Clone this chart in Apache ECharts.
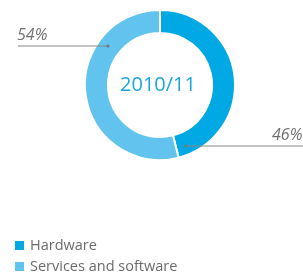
<!DOCTYPE html>
<html>
<head>
<meta charset="utf-8">
<script src="https://cdn.jsdelivr.net/npm/echarts@6/dist/echarts.min.js"></script>
<style>
  html, body { margin: 0; padding: 0; background: #fff; }
  #chart { width: 303px; height: 275px; }
</style>
</head>
<body>
<div id="chart"></div>
<script>
// data
const categories = ['Hardware', 'Services and software'];
const shares = [46, 54];
const colors = ['#00a8e4', '#62c3ee'];
const centerTitle = '2010/11';

// where the leader lines of each label go (pixel layout)
const labelSpots = [
	{ dot: [186, 146], end: [303, 146], text: [272, 135] },
	{ dot: [108, 46], end: [18, 46], text: [17, 35] },
];

const chart = echarts.init(document.getElementById('chart'));

const option = {
	animation: false,
	color: colors,
	title: {
		text: centerTitle,
		left: 158,
		top: 85,
		padding: 0,
		textAlign: 'center',
		textVerticalAlign: 'middle',
		textStyle: { fontSize: 20, fontWeight: 'normal', color: '#1ba6df', fontFamily: 'Open Sans' },
	},
	legend: {
		orient: 'vertical',
		left: 13,
		bottom: 1,
		padding: 0,
		icon: 'rect',
		itemWidth: 11,
		itemHeight: 11,
		itemGap: 6,
		textStyle: { fontSize: 14.5, lineHeight: 14, color: '#6b6b6b', fontFamily: 'Open Sans' },
		data: categories,
	},
	series: [
		{
			type: 'pie',
			center: [160, 85],
			radius: [52, 75],
			startAngle: 90,
			clockwise: true,
			itemStyle: { borderColor: '#fff', borderWidth: 2 },
			emphasis: { disabled: true },
			label: {
				show: true,
				position: 'outside',
				formatter: '{d}%',
				fontSize: 16,
				fontStyle: 'italic',
				color: '#707070',
				fontFamily: 'Open Sans',
				overflow: 'none',
				width: 60,
			},
			labelLine: { show: false },
			labelLayout: (p) => {
				const s = labelSpots[p.dataIndex];
				return {
					x: s.text[0],
					y: s.text[1],
					align: 'left',
					verticalAlign: 'middle',
				};
			},
			data: categories.map((name, i) => ({ name, value: shares[i] })),
		},
	],
	graphic: labelSpots.flatMap((s) => [
		{
			type: 'line',
			shape: { x1: s.dot[0], y1: s.dot[1], x2: s.end[0], y2: s.end[1] },
			style: { stroke: '#888', lineWidth: 1 },
			z: 100,
		},
		{
			type: 'circle',
			shape: { cx: s.dot[0], cy: s.dot[1], r: 1.6 },
			style: { fill: '#777' },
			z: 101,
		},
	]),
};

chart.setOption(option);
</script>
</body>
</html>
